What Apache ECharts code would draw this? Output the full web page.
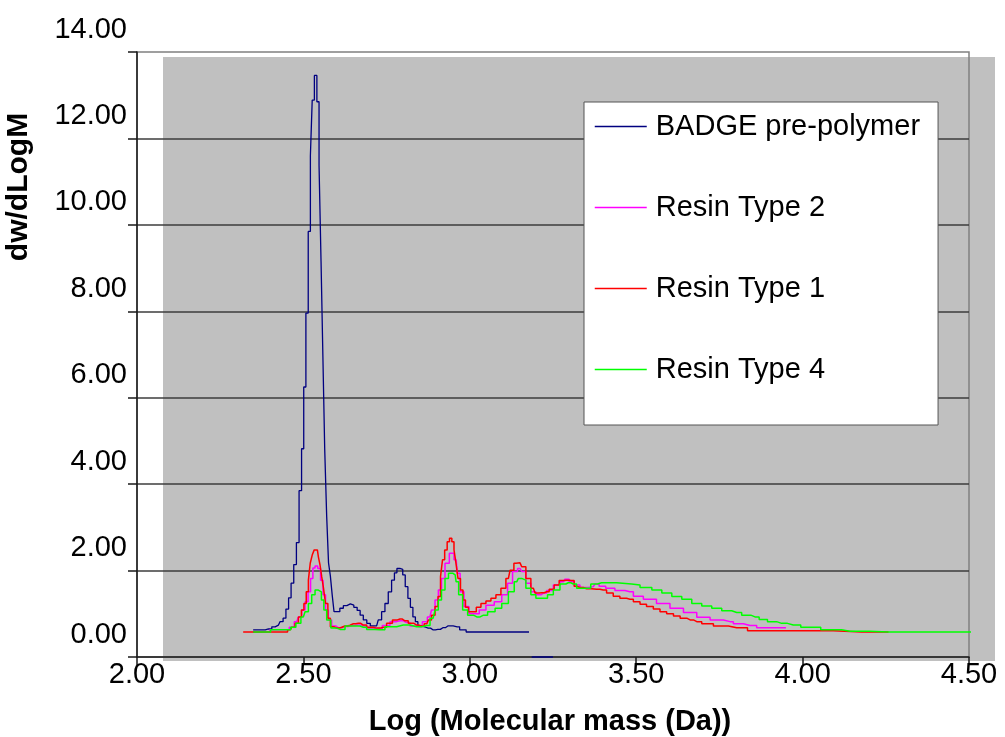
<!DOCTYPE html>
<html>
<head>
<meta charset="utf-8">
<script src="https://cdn.jsdelivr.net/npm/echarts@6/dist/echarts.min.js"></script>
<style>
html,body{margin:0;padding:0;background:#fff;}
#chart{width:1005px;height:737px;}
</style>
</head>
<body>
<div id="chart"></div>
<script>
// ---- data (x = Log molecular mass, y = dw/dLogM) ----
const seriesNames = ['BADGE pre-polymer', 'Resin Type 2', 'Resin Type 1', 'Resin Type 4'];
const xAxisTitle = 'Log (Molecular mass (Da))';
const yAxisTitle = 'dw/dLogM';

const badge = [
  [2.349,0.05],[2.376,0.05],[2.395,0.07],[2.415,0.12],[2.425,0.16],[2.435,0.24],[2.443,0.32],
  [2.452,0.53],[2.459,0.79],[2.467,1.13],[2.475,1.56],[2.483,2.07],[2.491,3.27],[2.498,4.24],
  [2.504,5.67],[2.511,7.38],[2.518,9.27],[2.524,11.02],[2.529,12.31],[2.537,12.88],[2.544,12.27],
  [2.550,10.80],[2.556,8.58],[2.561,6.40],[2.567,4.24],[2.573,2.67],[2.578,1.60],[2.584,1.30],
  [2.589,0.86],[2.595,0.47],[2.604,0.47],[2.615,0.55],[2.625,0.61],[2.636,0.65],[2.646,0.62],
  [2.657,0.57],[2.666,0.50],[2.675,0.39],[2.685,0.28],[2.696,0.20],[2.706,0.14],[2.720,0.14],
  [2.730,0.28],[2.740,0.47],[2.750,0.66],[2.760,0.93],[2.770,1.20],[2.777,1.37],[2.785,1.47],
  [2.795,1.45],[2.802,1.32],[2.810,1.05],[2.818,0.78],[2.825,0.57],[2.833,0.35],[2.840,0.24],
  [2.848,0.14],[2.860,0.11],[2.875,0.09],[2.889,0.05],[2.904,0.06],[2.919,0.10],[2.934,0.14],
  [2.950,0.14],[2.962,0.12],[2.977,0.05],[3.001,0.00],[3.174,0.00],
  [3.182,null],[3.190,-0.5785],[3.250,-0.5785]
];

const resin2 = [
  [2.349,0],[2.450,0.05],[2.465,0.11],[2.480,0.24],[2.490,0.35],[2.500,0.51],[2.510,0.70],
  [2.518,0.93],[2.525,1.24],[2.532,1.48],[2.538,1.53],[2.548,1.47],[2.555,1.20],[2.563,0.86],
  [2.570,0.51],[2.580,0.28],[2.590,0.14],[2.604,0.10],[2.625,0.13],[2.646,0.15],[2.664,0.16],
  [2.682,0.14],[2.700,0.09],[2.724,0.07],[2.750,0.15],[2.770,0.24],[2.790,0.26],[2.810,0.22],
  [2.830,0.14],[2.850,0.12],[2.865,0.24],[2.880,0.35],[2.890,0.51],[2.901,0.74],[2.910,0.97],
  [2.920,1.24],[2.931,1.59],[2.946,1.82],[2.959,1.67],[2.966,1.36],[2.976,0.93],[2.989,0.59],
  [3.006,0.42],[3.021,0.42],[3.036,0.51],[3.061,0.62],[3.086,0.70],[3.106,0.86],[3.121,1.13],
  [3.136,1.40],[3.151,1.47],[3.161,1.40],[3.176,1.13],[3.191,0.93],[3.206,0.86],[3.221,0.90],
  [3.241,0.96],[3.261,1.09],[3.281,1.16],[3.291,1.22],[3.306,1.16],[3.321,1.09],[3.341,1.03],
  [3.371,1.05],[3.381,1.11],[3.396,1.06],[3.421,1.01],[3.451,0.96],[3.481,0.93],[3.502,0.83],
  [3.541,0.76],[3.581,0.66],[3.622,0.55],[3.662,0.45],[3.702,0.34],[3.742,0.28],[3.782,0.24],
  [3.802,0.19],[3.842,0.15],[3.882,0.10],[3.950,0.10]
];

const resin1 = [
  [2.319,0],[2.445,0],[2.460,0.05],[2.470,0.11],[2.480,0.20],[2.490,0.35],[2.498,0.51],
  [2.505,0.66],[2.512,0.93],[2.518,1.20],[2.523,1.59],[2.530,1.78],[2.535,1.90],[2.542,1.90],
  [2.548,1.74],[2.552,1.55],[2.558,1.28],[2.563,1.01],[2.570,0.66],[2.577,0.32],[2.585,0.12],
  [2.600,0.09],[2.615,0.11],[2.625,0.14],[2.640,0.16],[2.650,0.19],[2.665,0.20],[2.680,0.16],
  [2.700,0.11],[2.720,0.09],[2.740,0.11],[2.760,0.20],[2.775,0.28],[2.790,0.30],[2.805,0.26],
  [2.825,0.20],[2.840,0.16],[2.855,0.14],[2.871,0.19],[2.880,0.28],[2.890,0.39],[2.901,0.59],
  [2.908,0.82],[2.916,1.28],[2.920,1.67],[2.929,1.90],[2.935,2.09],[2.943,2.17],[2.949,2.09],
  [2.956,1.90],[2.961,1.59],[2.968,1.24],[2.976,0.97],[2.983,0.74],[2.991,0.57],[3.001,0.47],
  [3.013,0.47],[3.026,0.57],[3.041,0.66],[3.056,0.72],[3.071,0.78],[3.086,0.86],[3.101,1.01],
  [3.116,1.24],[3.126,1.43],[3.139,1.59],[3.151,1.60],[3.161,1.51],[3.176,1.24],[3.191,1.01],
  [3.201,0.90],[3.216,0.91],[3.231,0.93],[3.246,0.99],[3.261,1.09],[3.276,1.19],[3.291,1.20],
  [3.306,1.19],[3.321,1.06],[3.331,1.03],[3.351,1.00],[3.381,0.99],[3.401,0.97],[3.421,0.90],
  [3.441,0.83],[3.461,0.78],[3.481,0.76],[3.502,0.70],[3.521,0.64],[3.541,0.59],[3.562,0.53],
  [3.581,0.47],[3.602,0.42],[3.622,0.37],[3.642,0.32],[3.662,0.28],[3.682,0.24],[3.712,0.19],
  [3.752,0.14],[3.802,0.10],[3.867,0.03],[3.952,0.03],[4.092,0.03],[4.097,0],[4.258,0]
];

const resin4 = [
  [2.349,0],[2.454,0.05],[2.470,0.11],[2.485,0.20],[2.500,0.35],[2.510,0.47],[2.520,0.66],
  [2.530,0.86],[2.540,0.97],[2.550,0.93],[2.558,0.74],[2.565,0.51],[2.575,0.28],[2.590,0.09],
  [2.610,0.06],[2.640,0.14],[2.660,0.14],[2.680,0.11],[2.700,0.06],[2.730,0.05],[2.760,0.12],
  [2.800,0.16],[2.840,0.12],[2.871,0.15],[2.890,0.32],[2.901,0.51],[2.910,0.74],[2.920,0.97],
  [2.931,1.24],[2.941,1.36],[2.956,1.32],[2.962,1.16],[2.971,0.86],[2.986,0.51],[3.001,0.39],
  [3.021,0.35],[3.041,0.39],[3.066,0.47],[3.086,0.55],[3.106,0.66],[3.126,0.93],[3.141,1.16],
  [3.151,1.24],[3.161,1.20],[3.176,1.01],[3.191,0.86],[3.206,0.78],[3.226,0.78],[3.241,0.86],
  [3.261,0.97],[3.281,1.11],[3.296,1.14],[3.311,1.11],[3.331,1.01],[3.356,1.01],[3.371,1.11],
  [3.396,1.14],[3.486,1.11],[3.491,1.09],[3.532,1.03],[3.562,0.97],[3.592,0.90],[3.622,0.82],
  [3.652,0.76],[3.682,0.66],[3.712,0.60],[3.742,0.55],[3.772,0.49],[3.802,0.45],[3.832,0.39],
  [3.857,0.35],[3.882,0.29],[3.907,0.24],[3.937,0.20],[3.972,0.16],[4.017,0.11],[4.092,0.05],
  [4.142,0.02],[4.258,0],[4.608,0]
];

const seriesData = [badge, resin2, resin1, resin4];
const seriesColors = ['#000080', '#ff00ff', '#ff0000', '#00ff00'];

// ---- chart ----
const FONT = 'Liberation Sans, Arial, sans-serif';
const chart = echarts.init(document.getElementById('chart'), null, {renderer: 'canvas'});

const option = {
  animation: false,
  backgroundColor: '#ffffff',
  grid: {
    left: 137, right: 36, top: 52, bottom: 80,
    show: true, borderColor: '#808080', borderWidth: 1.5,
    backgroundColor: 'transparent',
    outerBoundsMode: 'none'
  },
  graphic: [
    { type: 'rect', z: -10, silent: true,
      shape: { x: 163, y: 57, width: 832, height: 604 },
      style: { fill: '#c0c0c0' } },
    { type: 'text', silent: true, x: 550, y: 722,
      style: { text: xAxisTitle, font: 'bold 29px ' + FONT, fill: '#000',
               align: 'center', verticalAlign: 'middle' } },
    { type: 'text', silent: true, x: 19, y: 187, rotation: Math.PI / 2,
      style: { text: yAxisTitle, font: 'bold 30px ' + FONT, fill: '#000',
               align: 'center', verticalAlign: 'middle' } }
  ],
  legend: {
    data: seriesNames.map((name, i) => ({
      name: name,
      lineStyle: { color: seriesColors[i], width: 1.5, opacity: 1 }
    })),
    orient: 'vertical',
    left: 584, top: 102,
    backgroundColor: '#ffffff',
    borderColor: '#555555', borderWidth: 1,
    padding: [10, 18, 41, 10],
    itemWidth: 52, itemHeight: 14, itemGap: 52,
    itemStyle: { opacity: 0 },
    textStyle: { fontSize: 29, fontFamily: FONT, color: '#000', padding: [0, 0, 0, 4] }
  },
  xAxis: {
    type: 'value', min: 2, max: 4.5, interval: 0.5,
    axisLine: { show: true, lineStyle: { color: '#1a1a1a', width: 1.5 } },
    axisTick: { show: true, length: 8, lineStyle: { color: '#1a1a1a', width: 1.5 } },
    axisLabel: { fontSize: 29, fontFamily: FONT, color: '#000', margin: 3,
                 formatter: v => v.toFixed(2) },
    splitLine: { show: false }
  },
  yAxis: [
    { // frame axis: grid lines & labels
      type: 'value', min: 0, max: 14, interval: 2, position: 'left',
      axisLine: { show: true, lineStyle: { color: '#1a1a1a', width: 1.5 } },
      axisTick: { show: true, length: 9, lineStyle: { color: '#1a1a1a', width: 1.5 } },
      axisLabel: { fontSize: 29, fontFamily: FONT, color: '#000', margin: 10,
                   verticalAlign: 'bottom', lineHeight: 45,
                   formatter: v => v.toFixed(2) },
      splitLine: { show: true, showMinLine: false, showMaxLine: false,
                   lineStyle: { color: '#3c3c3c', width: 1.5 } }
    },
    { // data axis (values plotted here)
      type: 'value', min: -0.5785, max: 13.4215, show: false,
      splitLine: { show: false }
    }
  ],
  series: seriesNames.map((name, i) => ({
    name: name,
    type: 'line',
    yAxisIndex: 1,
    step: 'middle',
    symbol: 'none',
    showSymbol: false,
    clip: false,
    connectNulls: false,
    color: seriesColors[i],
    lineStyle: { color: seriesColors[i], width: i === 0 ? 1.3 : 1.5 },
    data: seriesData[i]
  }))
};
chart.setOption(option);
</script>
</body>
</html>
